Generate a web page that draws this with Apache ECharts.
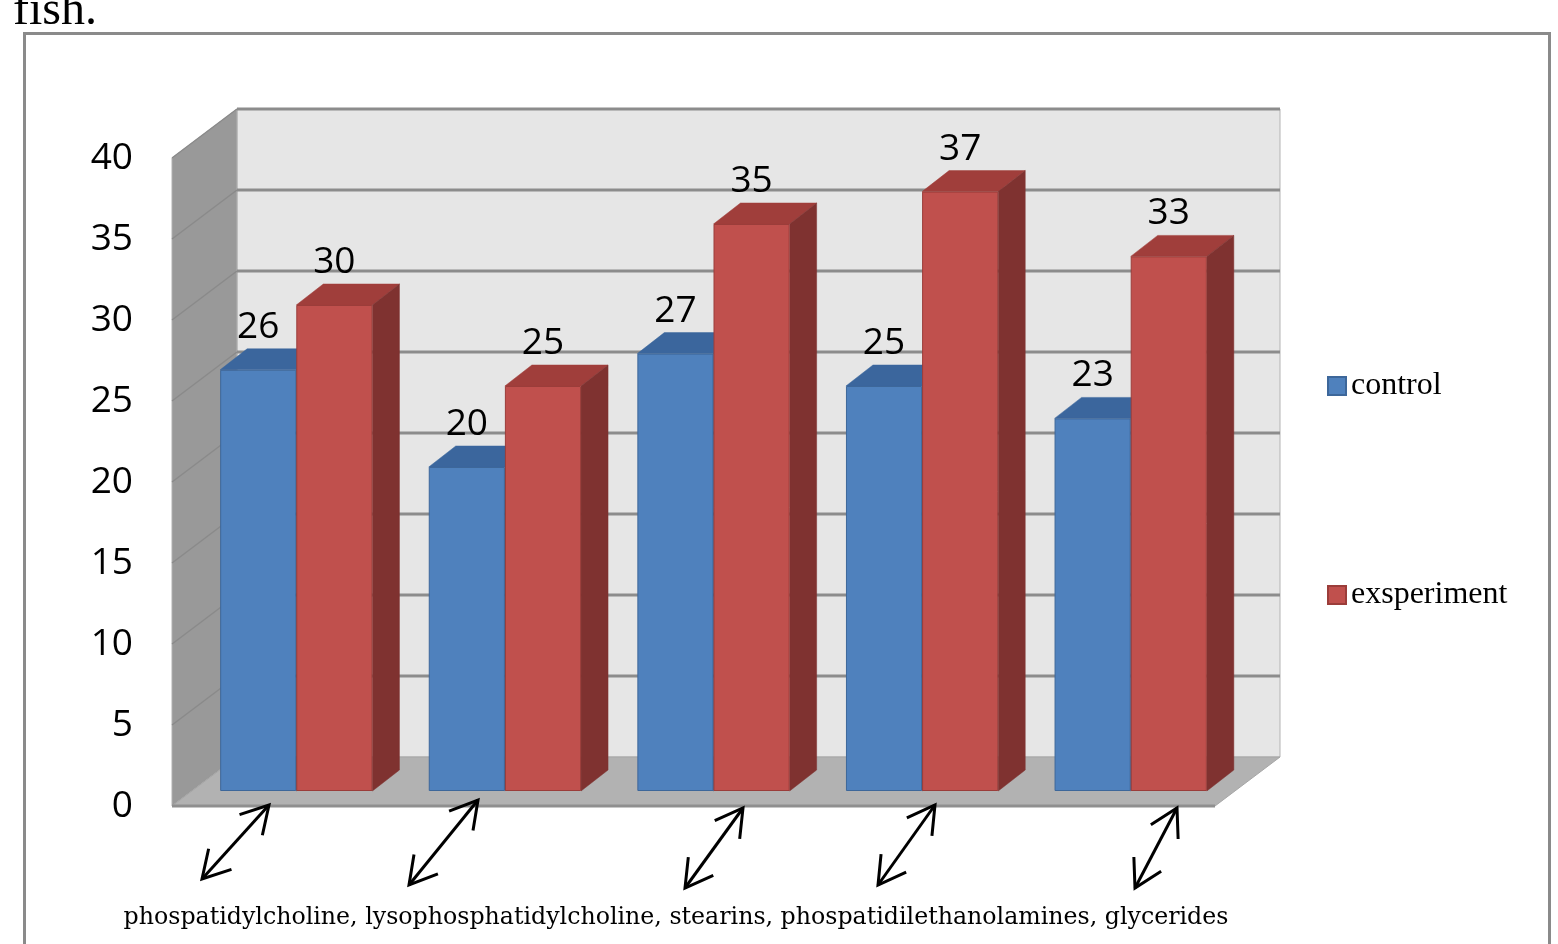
<!DOCTYPE html>
<html>
<head>
<meta charset="utf-8">
<script src="https://cdn.jsdelivr.net/npm/echarts@6/dist/echarts.min.js"></script>
<style>
  html, body { margin: 0; padding: 0; background: #fff; }
  #chart { width: 1558px; height: 944px; }
</style>
</head>
<body>
<div id="chart"></div>
<script>
// data
var categories = ['phospatidylcholine', 'lysophosphatidylcholine', 'stearins', 'phospatidilethanolamines', 'glycerides'];
var control = [26, 20, 27, 25, 23];
var exsperiment = [30, 25, 35, 37, 33];
var yMin = 0, yMax = 40, yStep = 5;

// fake 3d offsets (pixels)
var BAR_DEPTH = [27, -21];
var BACK = [45, -34];
var FRONT = [-20, 15];
var BAR_SHARE = 0.365;

var myChart = echarts.init(document.getElementById('chart'));

function renderWalls(params, api) {
    var bw = api.size([1, 0])[0];
    var p0 = api.coord([0, yMin]);
    var xL = p0[0] - bw / 2, xR = xL + bw * categories.length;
    var yB = p0[1], yT = api.coord([0, yMax])[1];
    var kids = [];
    // back wall
    kids.push({type: 'rect', shape: {x: xL + BACK[0], y: yT + BACK[1], width: xR - xL, height: yB - yT},
        style: {fill: '#e6e6e6', stroke: '#b4b4b4', lineWidth: 1}});
    // left wall
    kids.push({type: 'polygon', shape: {points: [
            [xL + FRONT[0], yB + FRONT[1]], [xL + FRONT[0], yT + FRONT[1]],
            [xL + BACK[0], yT + BACK[1]], [xL + BACK[0], yB + BACK[1]]]},
        style: {fill: '#999999', stroke: '#b0b0b0', lineWidth: 1}});
    for (var v = yMin + yStep; v <= yMax; v += yStep) {
        var y = api.coord([0, v])[1];
        kids.push({type: 'line', shape: {x1: xL + FRONT[0], y1: y + FRONT[1], x2: xL + BACK[0], y2: y + BACK[1]},
            style: {stroke: '#8a8a8a', lineWidth: 1.5}});
        kids.push({type: 'line', shape: {x1: xL + BACK[0], y1: y + BACK[1], x2: xR + BACK[0], y2: y + BACK[1]},
            style: {stroke: '#8c8c8c', lineWidth: 3}});
    }
    // floor
    kids.push({type: 'polygon', shape: {points: [
            [xL + FRONT[0], yB + FRONT[1]], [xL + BACK[0], yB + BACK[1]],
            [xR + BACK[0], yB + BACK[1]], [xR + FRONT[0], yB + FRONT[1]]]},
        style: {fill: '#b2b2b2', stroke: '#a6a6a6', lineWidth: 1}});
    kids.push({type: 'line', shape: {x1: xL + FRONT[0], y1: yB + FRONT[1], x2: xR + FRONT[0], y2: yB + FRONT[1]},
        style: {stroke: '#8f8f8f', lineWidth: 3}});
    return {type: 'group', children: kids};
}

// top and right faces of each bar
function extrude(leftSide, topColor, sideColor) {
    return function (params, api) {
        var ci = api.value(0), v = api.value(1);
        var w = api.size([1, 0])[0] * BAR_SHARE;
        var c = api.coord([ci, v]);
        var yBase = api.coord([ci, 0])[1];
        var x0 = leftSide ? c[0] - w : c[0];
        var x1 = x0 + w, yt = c[1];
        var dx = BAR_DEPTH[0], dy = BAR_DEPTH[1];
        return {type: 'group', children: [
            {type: 'polygon', shape: {points: [[x0, yt], [x1, yt], [x1 + dx, yt + dy], [x0 + dx, yt + dy]]},
                style: {fill: topColor, stroke: topColor, lineWidth: 0.5}},
            {type: 'polygon', shape: {points: [[x1, yt], [x1 + dx, yt + dy], [x1 + dx, yBase + dy], [x1, yBase]]},
                style: {fill: sideColor, stroke: sideColor, lineWidth: 0.5}}
        ]};
    };
}

function pairs(arr) {
    return arr.map(function (v, i) { return [i, v]; });
}

// hand-drawn double arrows under the chart
var arrowEnds = [[269, 805, 202, 879], [478, 800, 409, 885], [743, 808, 685, 888], [935, 805, 878, 885], [1177, 808, 1135, 888]];
function arrowGraphic(a) {
    var out = [];
    var ends = [[a[0], a[1], a[2], a[3]], [a[2], a[3], a[0], a[1]]];
    out.push({type: 'line', z: 100, shape: {x1: a[0], y1: a[1], x2: a[2], y2: a[3]}, style: {stroke: '#000', lineWidth: 3}});
    ends.forEach(function (e) {
        var ang = Math.atan2(e[3] - e[1], e[2] - e[0]);
        var L = 31, s = 0.52;
        out.push({type: 'polyline', z: 100, shape: {points: [
                [e[0] + L * Math.cos(ang - s), e[1] + L * Math.sin(ang - s)],
                [e[0], e[1]],
                [e[0] + L * Math.cos(ang + s), e[1] + L * Math.sin(ang + s)]]},
            style: {stroke: '#000', lineWidth: 3, fill: null}});
    });
    return out;
}
var arrowEls = [];
arrowEnds.forEach(function (a) { arrowEls = arrowEls.concat(arrowGraphic(a)); });

var labelFont = {fontFamily: 'Open Sans', fontSize: 37, color: '#000'};

var option = {
    animation: false,
    backgroundColor: '#fff',
    grid: [
        {left: 192, right: 323, top: 143, bottom: 153},
        {left: 172, right: 343, top: 158, bottom: 138}
    ],
    xAxis: [
        {type: 'category', data: categories, gridIndex: 0, show: false},
        {type: 'category', data: categories, gridIndex: 1, show: false}
    ],
    yAxis: [
        {type: 'value', gridIndex: 0, min: yMin, max: yMax, interval: yStep, show: false},
        {type: 'value', gridIndex: 1, min: yMin, max: yMax, interval: yStep,
            axisLine: {show: false}, axisTick: {show: false}, splitLine: {show: false},
            axisLabel: Object.assign({margin: 39}, labelFont)}
    ],
    legend: {
        orient: 'vertical',
        left: 1322,
        top: 365,
        itemWidth: 18,
        itemHeight: 18,
        itemGap: 177,
        icon: 'rect',
        selectedMode: false,
        data: ['control', 'exsperiment'],
        textStyle: {fontFamily: 'Liberation Serif', fontSize: 32, color: '#000'}
    },
    series: [
        {name: 'walls', type: 'custom', data: [[0, 0]], renderItem: renderWalls, z: 1, silent: true},
        {name: 'control depth', type: 'custom', data: pairs(control), renderItem: extrude(true, '#3b669d', '#2f5482'), z: 2, silent: true},
        {name: 'exsperiment depth', type: 'custom', data: pairs(exsperiment), renderItem: extrude(false, '#a03e3b', '#7f3230'), z: 2, silent: true},
        {
            name: 'control', type: 'bar', data: control, z: 3,
            barWidth: (BAR_SHARE * 100) + '%', barGap: '0%',
            itemStyle: {color: '#4f81bd', borderColor: '#3d679a', borderWidth: 1},
            label: Object.assign({show: true, position: 'top', distance: 24}, labelFont)
        },
        {
            name: 'exsperiment', type: 'bar', data: exsperiment, z: 3,
            barWidth: (BAR_SHARE * 100) + '%', barGap: '0%',
            itemStyle: {color: '#c0504d', borderColor: '#9b3d3a', borderWidth: 1},
            label: Object.assign({show: true, position: 'top', distance: 24}, labelFont)
        }
    ],
    graphic: [
        {type: 'rect', z: 100, shape: {x: 24.5, y: 33.5, width: 1525, height: 960}, style: {fill: null, stroke: '#8a8a8a', lineWidth: 3}},
        {type: 'text', z: 100, style: {text: 'fish.', x: 13, y: 11, font: '48px "Liberation Serif"', fill: '#000', align: 'left', verticalAlign: 'middle'}},
        {type: 'text', z: 100, style: {text: categories.join(', '), x: 676, y: 918, font: '23.7px "DejaVu Serif"', fill: '#000', align: 'center', verticalAlign: 'middle'}},
        {type: 'group', z: 100, children: arrowEls}
    ]
};
myChart.setOption(option);
</script>
</body>
</html>
